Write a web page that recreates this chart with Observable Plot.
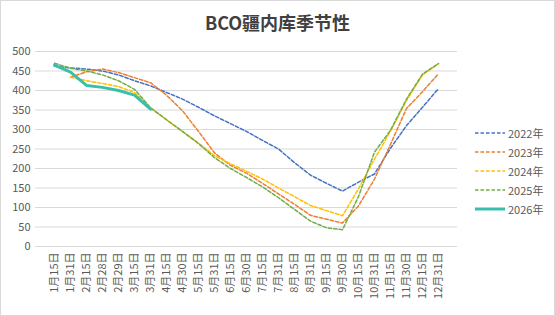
<!DOCTYPE html>
<html>
<head>
<meta charset="utf-8">
<script src="https://cdn.jsdelivr.net/npm/d3@7"></script>
<script src="https://cdn.jsdelivr.net/npm/@observablehq/plot@0.6"></script>
<style>
  body { margin: 0; background: #fff; }
  #chart { position: relative; width: 555px; height: 316px; overflow: hidden; background: #fff;
           font-family: "Noto Sans CJK SC", "Noto Sans", sans-serif; }
  #frame { position: absolute; left: 0; top: 0; width: 555px; height: 316px; box-sizing: border-box;
           border: 1px solid #d9d9d9; pointer-events: none; }
  #title { position: absolute; left: 0; top: 0; width: 555px; height: 45px; line-height: 45px;
           text-align: center; font-size: 18px; font-weight: bold; color: #404040; }
  #plot { position: absolute; left: 0; top: 36px; }
  #legend { position: absolute; left: 475px; top: 123px; }
  .item { display: flex; align-items: center; height: 19px; font-size: 11px; color: #595959; }
  .item svg { width: 30px; height: 8px; margin-right: 3px; }
</style>
</head>
<body>
<div id="chart">
  <div id="title">BCO疆内库季节性</div>
  <div id="plot"></div>
  <div id="legend"></div>
  <div id="frame"></div>
</div>
<script>
const categories = ["1月15日","1月31日","2月15日","2月28日","2月29日","3月15日","3月31日","4月15日","4月30日","5月15日","5月31日","6月15日","6月30日","7月15日","7月31日","8月15日","8月31日","9月15日","9月30日","10月15日","10月31日","11月15日","11月30日","12月15日","12月31日"];
const yTicks = [0,50,100,150,200,250,300,350,400,450,500];
const s2022 = [462,458,455,450,440,425,412,395,378,357,335,315,295,272,250,215,183,162,142,165,186,252,310,357,405];
const s2023 = [null,434,448,455,446,433,420,388,348,295,240,208,188,162,135,108,80,70,60,104,173,262,354,397,443];
const s2024 = [null,434,425,418,410,395,355,325,295,265,233,212,193,173,150,128,105,92,79,148,224,296,374,440,469];
const s2025 = [470,457,450,440,425,403,356,325,295,264,228,200,177,153,125,95,65,48,43,128,242,298,378,442,469];
const s2026 = [465,447,413,408,400,388,352];
const seriesNames = ["2022年","2023年","2024年","2025年","2026年"];
const seriesValues = [s2022, s2023, s2024, s2025, s2026];
const colors = ["#4472C4","#ED7D31","#FFC000","#70AD47","#3BBFAD"];

const rows = [];
seriesNames.forEach((name, k) => {
  seriesValues[k].forEach((v, i) => {
    if (v != null) rows.push({series: name, date: categories[i], value: v});
  });
});

const plot = Plot.plot({
  width: 555,
  height: 280,
  marginTop: 15,
  marginBottom: 70,
  marginLeft: 35,
  marginRight: 98,
  style: {fontFamily: '"Noto Sans CJK SC", "Noto Sans", sans-serif', fontSize: "11px", color: "#595959", background: "transparent"},
  x: {type: "point", domain: categories, padding: 0.5, label: null},
  y: {domain: [0, 500], label: null},
  color: {domain: seriesNames, range: colors},
  marks: [
    Plot.gridY(yTicks, {stroke: "#d9d9d9", strokeOpacity: 1, strokeWidth: 1}),
    Plot.axisY(yTicks, {tickSize: 0, tickPadding: 5, fontSize: 11, label: null}),
    Plot.axisX({tickSize: 0, tickPadding: 6, tickRotate: -90, fontSize: 11, label: null}),
    Plot.lineY(rows.filter(d => d.series !== "2026年"), {x: "date", y: "value", z: "series", stroke: "series", strokeWidth: 1.5, strokeDasharray: "3.5,2"}),
    Plot.lineY(rows.filter(d => d.series === "2026年"), {x: "date", y: "value", stroke: "series", strokeWidth: 3})
  ]
});
document.getElementById("plot").appendChild(plot);

const legend = d3.select("#legend");
seriesNames.forEach((name, k) => {
  const item = legend.append("div").attr("class", "item");
  const svg = item.append("svg").attr("viewBox", "0 0 30 8");
  svg.append("line").attr("x1", 0).attr("x2", 30).attr("y1", 4).attr("y2", 4)
    .attr("stroke", colors[k])
    .attr("stroke-width", k === 4 ? 3 : 1.5)
    .attr("stroke-dasharray", k === 4 ? null : "3.5,2");
  item.append("span").text(name);
});
</script>
</body>
</html>
